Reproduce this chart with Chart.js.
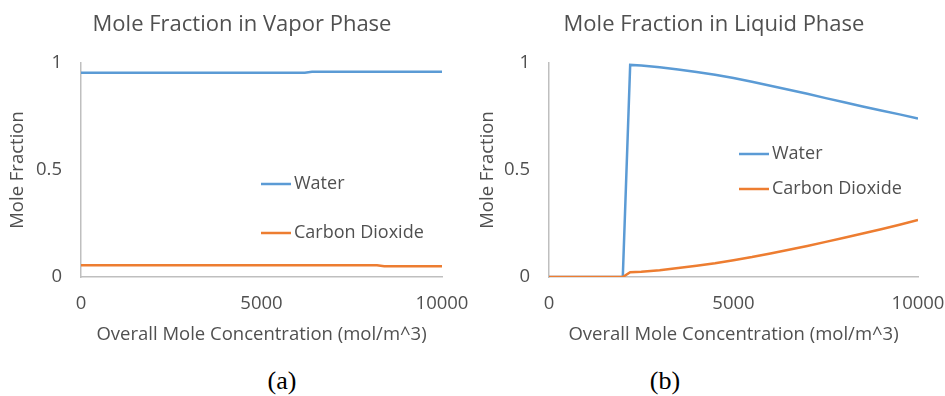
<!DOCTYPE html>
<html>
<head>
<meta charset="utf-8">
<script src="https://cdn.jsdelivr.net/npm/chart.js@4/dist/chart.umd.min.js"></script>
<style>
  html, body { margin: 0; padding: 0; background: #fff; }
  #page { position: relative; width: 945px; height: 396px; overflow: hidden; }
  canvas { position: absolute; top: 0; }
  .cap {
    position: absolute; top: 365px; width: 60px; margin-left: -30px;
    text-align: center; font-family: "Liberation Serif", "Times New Roman", serif;
    font-size: 26px; line-height: 32px; color: #000;
  }
</style>
</head>
<body>
<div id="page">
  <canvas id="vapor" width="470" height="360" style="left:0;width:470px;height:360px"></canvas>
  <canvas id="liquid" width="475" height="360" style="left:470px;width:475px;height:360px"></canvas>
  <div class="cap" style="left:282px">(a)</div>
  <div class="cap" style="left:665px">(b)</div>
</div>
<script>
// vapor phase (a)
const vaporConc = [0, 1000, 2000, 3000, 4000, 5000, 6000, 6200, 6400, 7000, 8000, 8200, 8400, 9000, 10000];
const vaporWater = [0.955, 0.955, 0.955, 0.955, 0.955, 0.955, 0.955, 0.955, 0.959, 0.959, 0.959, 0.959, 0.959, 0.959, 0.959];
const vaporCO2 = [0.055, 0.055, 0.055, 0.055, 0.055, 0.055, 0.055, 0.055, 0.055, 0.055, 0.055, 0.055, 0.05, 0.05, 0.05];

// liquid phase (b)
const liquidConc = [0, 500, 1000, 1500, 2000, 2200, 2500, 3000, 3500, 4000, 4500, 5000, 5500, 6000, 6500, 7000, 7500, 8000, 8500, 9000, 9500, 10000];
const liquidWater = [0, 0, 0, 0, 0, 0.991, 0.988, 0.98, 0.97, 0.958, 0.945, 0.93, 0.912, 0.894, 0.875, 0.856, 0.836, 0.817, 0.797, 0.778, 0.76, 0.741];
const liquidCO2 = [0, 0, 0, 0, 0, 0.022, 0.025, 0.032, 0.042, 0.053, 0.064, 0.078, 0.093, 0.11, 0.127, 0.145, 0.164, 0.183, 0.203, 0.223, 0.244, 0.266];

const xTicks = [0, 5000, 10000];
const yTicks = [0, 0.5, 1];
const seriesNames = ["Water", "Carbon Dioxide"];

const BLUE = "#5b9bd5";
const ORANGE = "#ed7d31";
const TEXT = "#505050";
const AXIS = "#bfbfbf";

Chart.defaults.font.family = "'Open Sans', sans-serif";
Chart.defaults.color = TEXT;

// title + in-plot legend, drawn where the original sits
const panelText = {
  id: "panelText",
  afterDraw(chart, args, opts) {
    const ctx = chart.ctx;
    ctx.save();
    ctx.fillStyle = TEXT;
    ctx.textBaseline = "middle";
    ctx.font = "22px 'Open Sans'";
    ctx.textAlign = "center";
    ctx.fillText(opts.title, opts.titleX, opts.titleY);

    ctx.font = "18px 'Open Sans'";
    ctx.textAlign = "left";
    chart.data.datasets.forEach((ds, i) => {
      const y = opts.rows[i];
      ctx.strokeStyle = ds.borderColor;
      ctx.lineWidth = 2.5;
      ctx.beginPath();
      ctx.moveTo(opts.lineX, y);
      ctx.lineTo(opts.lineX + 30, y);
      ctx.stroke();
      ctx.fillText(ds.label, opts.textX, y);
    });
    ctx.restore();
  },
};

function pts(xs, ys) {
  return xs.map((x, i) => ({ x, y: ys[i] }));
}

function makeChart(id, conc, water, co2, text) {
  return new Chart(document.getElementById(id), {
    type: "line",
    data: {
      datasets: [
        { label: seriesNames[0], data: pts(conc, water), borderColor: BLUE, order: 2 },
        { label: seriesNames[1], data: pts(conc, co2), borderColor: ORANGE, order: 1 },
      ],
    },
    options: {
      responsive: false,
      animation: false,
      events: [],
      elements: {
        line: { borderWidth: 2.5, tension: 0, fill: false },
        point: { radius: 0 },
      },
      layout: { padding: { top: 63, right: text.padRight, bottom: 0, left: 0 } },
      plugins: {
        legend: { display: false },
        title: { display: false },
        tooltip: { enabled: false },
        panelText: text,
      },
      scales: {
        x: {
          type: "linear",
          min: 0,
          max: 10000,
          afterBuildTicks: (s) => { s.ticks = xTicks.map((v) => ({ value: v })); },
          afterFit: (s) => { s.height = 83; s.paddingLeft = 0; s.paddingRight = 0; },
          grid: { display: false, drawTicks: false },
          border: { display: true, color: AXIS, width: 1.5 },
          ticks: { padding: 16, font: { size: 18.5 }, callback: (v) => String(v) },
          title: {
            display: true,
            text: "Overall Mole Concentration (mol/m^3)",
            font: { size: 18.5 },
            padding: { top: 0, bottom: 14 },
          },
        },
        y: {
          min: 0,
          max: 1,
          afterBuildTicks: (s) => { s.ticks = yTicks.map((v) => ({ value: v })); },
          afterFit: (s) => { s.width = text.axisLeft; s.paddingTop = 0; s.paddingBottom = 0; },
          grid: { display: false, drawTicks: false },
          border: { display: true, color: AXIS, width: 1.5 },
          ticks: { padding: 19, font: { size: 18.5 }, callback: (v) => String(v) },
          title: {
            display: true,
            text: "Mole Fraction",
            font: { size: 18.5 },
            padding: { top: 7, bottom: 0 },
          },
        },
      },
    },
    plugins: [panelText],
  });
}

makeChart("vapor", vaporConc, vaporWater, vaporCO2, {
  title: "Mole Fraction in Vapor Phase",
  titleX: 242, titleY: 25,
  lineX: 261, textX: 294, rows: [184, 233],
  padRight: 28, axisLeft: 81,
});

makeChart("liquid", liquidConc, liquidWater, liquidCO2, {
  title: "Mole Fraction in Liquid Phase",
  titleX: 244, titleY: 25,
  lineX: 269, textX: 302, rows: [154, 189],
  padRight: 27, axisLeft: 79,
});
</script>
</body>
</html>
